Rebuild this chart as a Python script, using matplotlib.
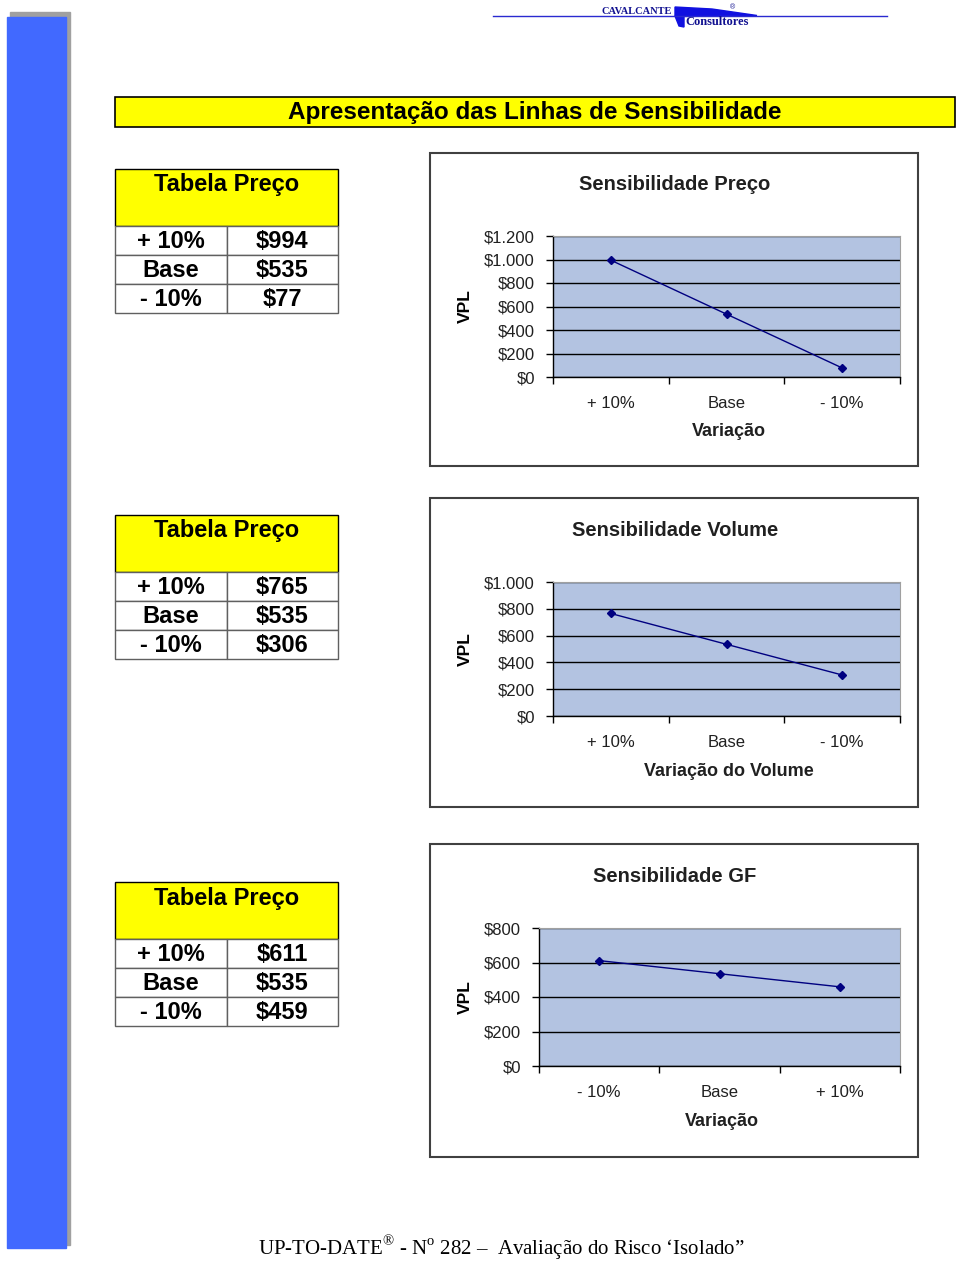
import matplotlib.pyplot as plt
from matplotlib.patches import Rectangle, Polygon
from matplotlib.ticker import FuncFormatter
import numpy as np

# tabelas (linhas de sensibilidade)
linhas_tabela = ["+ 10%", "Base", "- 10%"]
tabela_preco = ["$994", "$535", "$77"]
tabela_volume = ["$765", "$535", "$306"]
tabela_gf = ["$611", "$535", "$459"]

# graficos
cat_preco = ["+ 10%", "Base", "- 10%"]
vpl_preco = [994, 535, 77]
cat_volume = ["+ 10%", "Base", "- 10%"]
vpl_volume = [765, 535, 306]
cat_gf = ["- 10%", "Base", "+ 10%"]
vpl_gf = [611, 535, 459]

W, H = 960, 1261
fig = plt.figure(figsize=(W / 100, H / 100), dpi=100)
plt.rcParams['font.family'] = ['Liberation Sans', 'DejaVu Sans']
plt.rcParams['mathtext.fontset'] = 'custom'
plt.rcParams['mathtext.rm'] = 'Liberation Serif'


def caixa(x0, y0, x1, y1):
    return [x0 / W, 1 - y1 / H, (x1 - x0) / W, (y1 - y0) / H]


# fundo em coordenadas de pixel
bg = fig.add_axes([0, 0, 1, 1])
bg.set_xlim(0, W)
bg.set_ylim(H, 0)
bg.axis('off')

# barra lateral azul com sombra
bg.add_patch(Rectangle((10, 12), 60, 1233, color='#a0a0a0', zorder=1))
bg.add_patch(Rectangle((7, 17), 59, 1231, color='#4169ff', zorder=2))

# logotipo
bg.plot([493, 887], [16, 16], color='#2a2ad0', lw=1)
bg.add_patch(Polygon([(675, 7), (712, 9), (757, 15.5), (675, 16.5)], color='#1010e0'))
bg.add_patch(Polygon([(675, 16), (684, 16), (684, 27), (679, 26)], color='#1010e0'))
bg.text(602, 12, "CAVALCANTE", family='Liberation Serif', fontsize=7.5, weight='bold',
        color='#101090', va='center')
bg.text(685, 22, "Consultores", family='Liberation Serif', fontsize=9, weight='bold',
        color='#101090', va='center')
bg.text(733, 8, "®", fontsize=5, color='#101090', ha='center', va='center')

# titulo
bg.add_patch(Rectangle((115, 97), 840, 30, facecolor='#ffff00', edgecolor='black', lw=1.2))
bg.text(535, 112, "Apresentação das Linhas de Sensibilidade", fontsize=17.5, weight='bold',
        ha='center', va='center')


def tabela(y0, valores):
    bg.add_patch(Rectangle((115, y0), 223, 57, facecolor='#ffff00', edgecolor='black', lw=1))
    bg.text(227, y0 + 16, "Tabela Preço", fontsize=17, weight='bold', ha='center', va='center')
    altura = 29
    for i, (rotulo, valor) in enumerate(zip(linhas_tabela, valores)):
        yl = y0 + 57 + i * altura
        bg.add_patch(Rectangle((115, yl), 112, altura, facecolor='white', edgecolor='#606060', lw=1))
        bg.add_patch(Rectangle((227, yl), 111, altura, facecolor='white', edgecolor='#606060', lw=1))
        bg.text(171, yl + altura / 2 + 1, rotulo, fontsize=17, weight='bold', ha='center', va='center')
        bg.text(282, yl + altura / 2 + 1, valor, fontsize=17, weight='bold', ha='center', va='center')


tabela(169, tabela_preco)
tabela(515, tabela_volume)
tabela(882, tabela_gf)


def moeda(v, pos):
    return "$" + f"{int(v):,}".replace(",", ".")


def grafico(moldura, area, titulo, rotulo_x, cats, vals, ymax, passo, y_titulo, y_rotulo):
    x0, y0, x1, y1 = moldura
    bg.add_patch(Rectangle((x0, y0), x1 - x0, y1 - y0, facecolor='white', edgecolor='#404040', lw=1.5))
    bg.text(675, y_titulo, titulo, fontsize=14.5, weight='bold', color='#202020', ha='center', va='center')
    bg.text((area[0] + area[2]) / 2 + 2, y_rotulo, rotulo_x, fontsize=13, weight='bold',
            color='#202020', ha='center', va='center')
    bg.text(465, (area[1] + area[3]) / 2, "VPL", fontsize=12.5, weight='bold', rotation=90,
            ha='center', va='center')

    ax = fig.add_axes(caixa(*area))
    ax.set_facecolor('#b3c3e1')
    ax.plot(range(len(cats)), vals, color='#000080', marker='D', ms=4.5, lw=1)
    ax.set_xlim(-0.5, len(cats) - 0.5)
    ax.set_ylim(0, ymax)
    ax.set_yticks(np.arange(0, ymax + 1, passo))
    ax.yaxis.set_major_formatter(FuncFormatter(moeda))
    ax.set_xticks(np.arange(-0.5, len(cats), 1))
    ax.set_xticklabels([])
    ax.set_xticks(range(len(cats)), minor=True)
    ax.set_xticklabels(cats, minor=True)
    ax.tick_params(axis='x', which='minor', length=0, pad=14, labelsize=12, labelcolor='#202020')
    ax.tick_params(axis='x', which='major', direction='out', length=5, width=1)
    ax.tick_params(axis='y', direction='out', length=5, width=1, pad=8, labelsize=12,
                   labelcolor='#202020')
    ax.grid(axis='y', color='black', lw=1)
    ax.set_axisbelow(True)
    for lado in ['top', 'right']:
        ax.spines[lado].set_color('#a0a0a0')
        ax.spines[lado].set_linewidth(0.8)
    for lado in ['left', 'bottom']:
        ax.spines[lado].set_linewidth(1)
    return ax


grafico((430, 153, 918, 466), (553, 236, 900, 377), "Sensibilidade Preço", "Variação",
        cat_preco, vpl_preco, 1200, 200, 185, 431)
grafico((430, 498, 918, 807), (553, 582, 900, 716), "Sensibilidade Volume", "Variação do Volume",
        cat_volume, vpl_volume, 1000, 200, 531, 771)
grafico((430, 844, 918, 1157), (539, 928, 900, 1066), "Sensibilidade GF", "Variação",
        cat_gf, vpl_gf, 800, 200, 877, 1121)

# rodape
bg.text(501, 1248, r"UP-TO-DATE$^{\circledR}$ - N$^{\mathrm{o}}$ 282 –  Avaliação do Risco ‘Isolado”",
        family='Liberation Serif', fontsize=15, ha='center', va='center')

fig.savefig("out.png", dpi=100)
